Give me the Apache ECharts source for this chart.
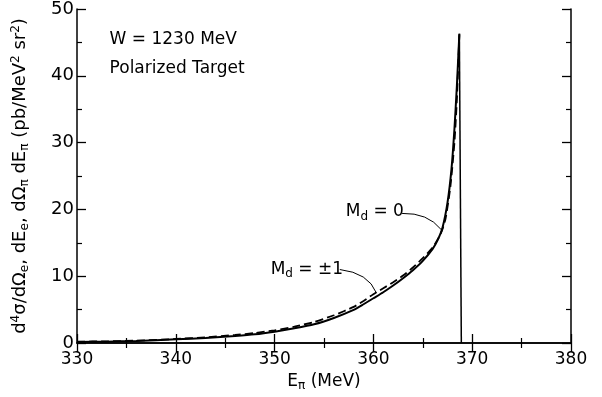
<!DOCTYPE html>
<html>
<head>
<meta charset="utf-8">
<script src="https://cdn.jsdelivr.net/npm/echarts@6/dist/echarts.min.js"></script>
<style>
html,body{margin:0;padding:0;background:#fff;}
#c{width:602px;height:397px;}
</style>
</head>
<body>
<div id="c"></div>
<script>
// Data
var energySolid = [330, 333, 336, 340, 343, 346, 348, 350, 352, 354, 356, 358, 359, 360, 361, 362, 363, 364, 365, 366, 366.5, 367, 367.5, 367.9, 368.2, 368.45, 368.7];
var valueSolid  = [0.15, 0.2, 0.3, 0.55, 0.75, 1.05, 1.3, 1.7, 2.2, 2.8, 3.75, 4.95, 5.8, 6.7, 7.6, 8.6, 9.7, 10.9, 12.3, 14.1, 15.4, 17.3, 21, 26, 32, 38.5, 46.3];
var energyDash  = [330, 333, 336, 340, 343, 346, 348, 350, 352, 354, 356, 358, 359, 360, 361, 362, 363, 364, 365, 366, 366.8, 367.3, 367.8, 368.2, 368.45, 368.7];
var valueDash   = [0.2, 0.25, 0.35, 0.6, 0.85, 1.2, 1.5, 1.9, 2.45, 3.15, 4.15, 5.4, 6.3, 7.3, 8.2, 9.1, 10.1, 11.3, 12.7, 14.3, 16.3, 18.6, 23.5, 30, 36.5, 46.3];
var dropEnergy  = [368.7, 368.9];
var dropValue   = [46.3, 0];
var xTicks = [330, 340, 350, 360, 370, 380];
var yTicks = [0, 10, 20, 30, 40, 50];

function pairs(a, b) { return a.map(function (v, i) { return [v, b[i]]; }); }

var FONT = 'DejaVu Sans';
var chart = echarts.init(document.getElementById('c'), null, {renderer: 'canvas'});

var axisLine = {show: true, lineStyle: {color: '#000', width: 1.5}};
var tick = {show: true, inside: true, length: 9, lineStyle: {color: '#000', width: 1.3}};
var minor = {show: true, splitNumber: 2, length: 5, lineStyle: {color: '#000', width: 1.2}};

chart.setOption({
  animation: false,
  backgroundColor: '#fff',
  grid: {left: 77, right: 31, top: 8, bottom: 49},
  xAxis: [{
    type: 'value', min: xTicks[0], max: xTicks[xTicks.length - 1], interval: 10,
    axisLine: axisLine, axisTick: tick, minorTick: minor, splitLine: {show: false},
    axisLabel: {color: '#000', fontFamily: FONT, fontSize: 17, margin: 8},
    name: '{a|E}{s|π}{a| (MeV)}', nameLocation: 'middle', nameGap: 29,
    nameTextStyle: {rich: {
      a: {fontFamily: FONT, fontSize: 17, color: '#000'},
      s: {fontFamily: FONT, fontSize: 12, color: '#000', verticalAlign: 'bottom', padding: [8, 0, 0, 0]}
    }}
  }, {
    type: 'value', position: 'top', min: xTicks[0], max: xTicks[xTicks.length - 1], interval: 10,
    axisLine: axisLine, axisTick: tick, minorTick: minor, splitLine: {show: false},
    axisLabel: {show: false}
  }],
  yAxis: [{
    type: 'value', min: yTicks[0], max: yTicks[yTicks.length - 1], interval: 10,
    axisLine: axisLine, axisTick: tick, minorTick: minor, splitLine: {show: false},
    axisLabel: {color: '#000', fontFamily: FONT, fontSize: 18, margin: 3},
    name: '{a|d}{p|4}{a|σ/dΩ}{s|e}{a|, dE}{s|e}{a|, dΩ}{s|π}{a| dE}{s|π}{a| (pb/MeV}{p|2}{a| sr}{p|2}{a|)}',
    nameLocation: 'middle', nameRotate: 90, nameGap: 46,
    nameTextStyle: {rich: {
      a: {fontFamily: FONT, fontSize: 18, color: '#000'},
      p: {fontFamily: FONT, fontSize: 12, color: '#000', verticalAlign: 'top', padding: [0, 0, 9, 0]},
      s: {fontFamily: FONT, fontSize: 12, color: '#000', verticalAlign: 'bottom', padding: [9, 0, 0, 0]}
    }}
  }, {
    type: 'value', position: 'right', min: yTicks[0], max: yTicks[yTicks.length - 1], interval: 10,
    axisLine: axisLine, axisTick: tick, minorTick: minor, splitLine: {show: false},
    axisLabel: {show: false}
  }],
  series: [{
    name: 'Md=0', type: 'line', data: pairs(energySolid, valueSolid),
    showSymbol: false, smooth: 0.2, lineStyle: {color: '#000', width: 2}
  }, {
    name: 'Md=±1', type: 'line', data: pairs(energyDash, valueDash),
    showSymbol: false, smooth: 0.2, lineStyle: {color: '#000', width: 1.8, type: [8, 4]}
  }, {
    name: 'edge', type: 'line', data: pairs(dropEnergy, dropValue),
    showSymbol: false, lineStyle: {color: '#000', width: 1.5}
  }]
});

// Annotations positioned in data coordinates
function px(e, v) { return chart.convertToPixel({xAxisIndex: 0, yAxisIndex: 0}, [e, v]); }
var richT = {
  a: {fontFamily: FONT, fontSize: 17, fill: '#000'},
  s: {fontFamily: FONT, fontSize: 12, fill: '#000', verticalAlign: 'bottom', padding: [9, 0, 0, 0]}
};
var pW = px(333.3, 45.4), pP = px(333.3, 41.1);
var m0 = px(357.2, 19.6), m1 = px(349.6, 11.0);
var l0a = px(362.9, 19.4), l0c = px(365.5, 19.5), l0b = px(366.85, 17.0);
var l1a = px(356.6, 11.0), l1c = px(359.5, 10.5), l1b = px(360.3, 7.5);
chart.setOption({
  graphic: [
    {type: 'text', x: pW[0], y: pW[1], style: {text: 'W = 1230 MeV', font: '17px ' + FONT, fill: '#000', textVerticalAlign: 'middle'}},
    {type: 'text', x: pP[0], y: pP[1], style: {text: 'Polarized Target', font: '17px ' + FONT, fill: '#000', textVerticalAlign: 'middle'}},
    {type: 'text', x: m0[0], y: m0[1], style: {text: '{a|M}{s|d}{a| = 0}', rich: richT, textVerticalAlign: 'middle'}},
    {type: 'text', x: m1[0], y: m1[1], style: {text: '{a|M}{s|d}{a| = ±1}', rich: richT, textVerticalAlign: 'middle'}},
    {type: 'bezierCurve', shape: {x1: l0a[0], y1: l0a[1], cpx1: l0c[0], cpy1: l0c[1], x2: l0b[0], y2: l0b[1]}, style: {stroke: '#000', lineWidth: 1, fill: null}},
    {type: 'bezierCurve', shape: {x1: l1a[0], y1: l1a[1], cpx1: l1c[0], cpy1: l1c[1], x2: l1b[0], y2: l1b[1]}, style: {stroke: '#000', lineWidth: 1, fill: null}}
  ]
});
</script>
</body>
</html>
